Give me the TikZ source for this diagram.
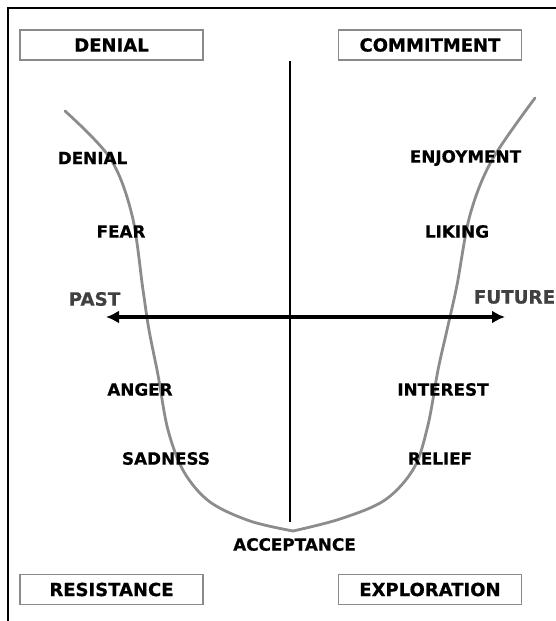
\documentclass[tikz,border=0pt]{standalone}
\usepackage{fontspec}
\setmainfont{DejaVu Sans}[BoldFeatures={FakeBold=0.6}]
\usetikzlibrary{arrows.meta}
\definecolor{curvegray}{HTML}{8C8C8C}
\definecolor{boxgray}{HTML}{8A8A8A}
\definecolor{axislabel}{HTML}{404040}
\tikzset{
  stagebox/.style={draw=boxgray, line width=1.2pt, minimum width=183pt, minimum height=30pt, inner sep=0pt, font=\fontsize{18}{20}\selectfont\bfseries},
  emo/.style={inner sep=0pt, font=\fontsize{16.8}{19}\selectfont\bfseries},
  axlab/.style={inner sep=0pt, text=axislabel, font=\fontsize{18.3}{20}\selectfont\bfseries},
  curve/.style={draw=curvegray, line width=2.8pt, line cap=round},
}
\begin{document}
\begin{tikzpicture}[x=1pt, y=-1pt]
\useasboundingbox (0,0) rectangle (556,621);
% frame
\draw[line width=2pt] (8,621) -- (8,8) -- (556,8);
% stage boxes
\node[stagebox] (denialbox) at (111.5,45) {DENIAL};
\node[stagebox] (commitbox) at (430,45) {COMMITMENT};
\node[stagebox] (resistbox) at (111.5,589.5) {RESISTANCE};
\node[stagebox] (explorebox) at (430,589.5) {EXPLORATION};
% curve
\draw[curve] plot[smooth, tension=0.55] coordinates {(65,111) (110,158) (132,215) (143,290) (149,330) (158,375) (168,430) (184,472) (210,502) (250,521) (293,531)};
\draw[curve] plot[smooth, tension=0.55] coordinates {(293,531) (340,519) (385,500) (414,468) (428,425) (438,370) (447,330) (457,285) (470,215) (492,160) (535,98)};
% axes
\coordinate (vtop) at (290,61);
\coordinate (vbot) at (290,522);
\draw[line width=2.5pt] (vtop) -- (vbot);
\coordinate (past) at (106,317);
\coordinate (future) at (505,317);
\draw[line width=3.2pt, {Latex[length=13pt,width=13pt]}-{Latex[length=13pt,width=13pt]}] (past) -- (future);
% axis labels
\node[axlab] (pastlab) at (94.5,299) {PAST};
\node[axlab] (futurelab) at (514.5,297) {FUTURE};
% emotions
\node[emo] (denial) at (92.5,158) {DENIAL};
\node[emo] (fear) at (121,231.5) {FEAR};
\node[emo] (anger) at (140,389.5) {ANGER};
\node[emo] (sadness) at (166,458.5) {SADNESS};
\node[emo] (enjoy) at (465.5,158) {ENJOYMENT};
\node[emo] (liking) at (457,231.5) {LIKING};
\node[emo] (interest) at (443,389.5) {INTEREST};
\node[emo] (relief) at (440,458.5) {RELIEF};
\node[emo] (accept) at (294.5,544.5) {ACCEPTANCE};
\end{tikzpicture}
\end{document}
